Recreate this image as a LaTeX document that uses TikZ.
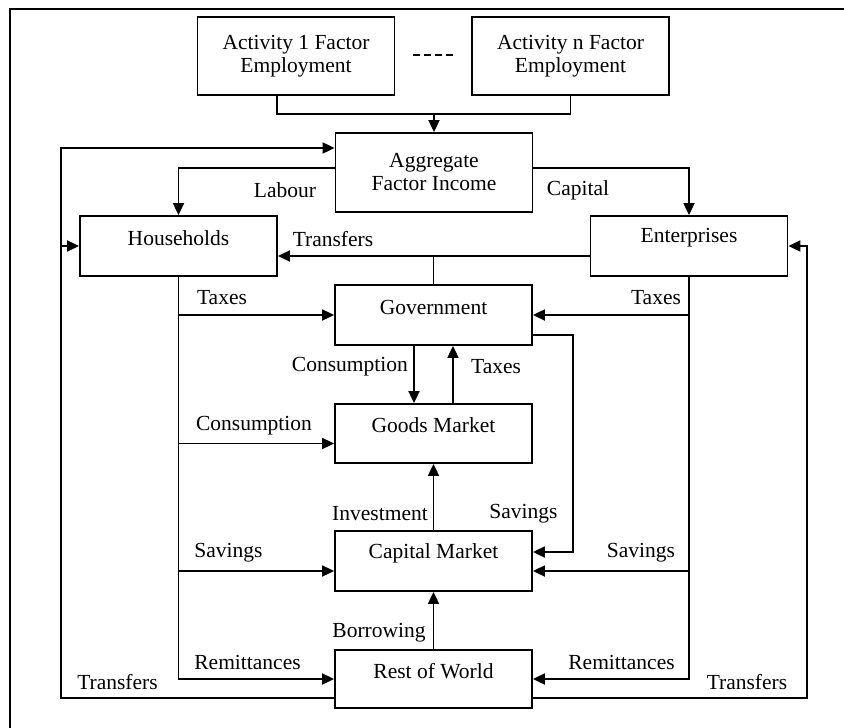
\documentclass[tikz,border=0pt]{standalone}
\usepackage{fontspec}
\setmainfont{Liberation Serif}
\usetikzlibrary{arrows.meta}
\begin{document}
\begin{tikzpicture}[x=1pt,y=-1pt,
  font=\fontsize{21.5}{23}\selectfont,
  box/.style={draw, line width=1.8pt, inner sep=0pt, minimum width=197pt, minimum height=60pt},
  boxtext/.style={inner sep=0pt, yshift=8pt},
  flow/.style={line width=1.8pt, -{Triangle[length=12pt,width=11pt]}},
  link/.style={line width=1.8pt},
  lbl/.style={inner sep=0pt}]
\useasboundingbox (0,0) rectangle (844,728);

% outer frame
\draw[line width=2.2pt] (10,728) -- (10,9) -- (844,9);

% accounts
\node[box, minimum height=78pt, align=center] (act1) at (296,56) {\raisebox{3pt}{\parbox{190pt}{\centering Activity 1 Factor\\Employment}}};
\node[box, minimum height=78pt, align=center] (actn) at (570.5,56) {\raisebox{3pt}{\parbox{190pt}{\centering Activity n Factor\\Employment}}};
\draw[line width=1.4pt, dash pattern=on 7pt off 4pt] (413,55) -- (453,55);

\node[box, minimum height=79pt, align=center] (agg) at (434,172.5) {Aggregate\\Factor Income};
\node[box, label={[boxtext]center:Households}] (hh) at (178.5,246) {};
\node[box, label={[boxtext]center:Enterprises}] (ent) at (689,246) {};
\node[box, label={[boxtext]center:Government}] (gov) at (433.5,315) {};
\node[box, minimum height=59pt, label={[boxtext]center:Goods Market}] (goods) at (433.5,433.5) {};
\node[box, label={[boxtext]center:Capital Market}] (cap) at (433.5,561) {};
\node[box, minimum height=58pt, label={[boxtext]center:Rest of World}] (row) at (433.5,679) {};

% helper points
\coordinate (join) at (434,113);
\coordinate (loopL) at (61,148);
\coordinate (loopR) at (807,246);
\coordinate (tr) at ([yshift=-10pt]ent.west);
\coordinate (gi) at ([yshift=-10pt]goods.west);
\coordinate (ci) at ([yshift=-10pt]cap.west);
\coordinate (ce) at ([yshift=-10pt]cap.east);

% factor employment into aggregate factor income
\draw[link] ([xshift=-19pt]act1.south) -- ++(0,18) -| (actn.south);
\draw[flow] (agg.north |- join) -- (agg.north);

% factor income distribution
\draw[flow] ([yshift=4.5pt]agg.west) -| (hh.north);
\draw[flow] ([yshift=4.5pt]agg.east) -| (ent.north);

% outer transfer loops
\draw[flow] ([yshift=-19pt]row.west) -| (loopL) -- (loopL -| agg.west);
\draw[flow] (hh.west -| loopL) -- (hh.west);
\draw[flow] ([yshift=-19pt]row.east) -| (loopR) -- (ent.east);

% transfers
\draw[flow] (tr) -- (tr -| hh.east);
\draw[link] (gov.north) -- (gov.north |- tr);

% household spending
\draw[flow] (hh.south) |- (row.west);
\draw[flow] (hh.south |- gov.west) -- (gov.west);
\draw[flow] (hh.south |- gi) -- (gi);
\draw[flow] (hh.south |- ci) -- (ci);

% enterprise spending
\draw[flow] (ent.south) |- (row.east);
\draw[flow] (ent.south |- gov.east) -- (gov.east);
\draw[flow] (ent.south |- ce) -- (ce);

% government flows
\draw[flow] ([yshift=-20pt]gov.east) -- ++(40,0) |- ([yshift=9pt]cap.east);
\draw[flow] ([xshift=-19.5pt]gov.south) -- ([xshift=-19.5pt]goods.north);
\draw[flow] ([xshift=19.5pt]goods.north) -- ([xshift=19.5pt]gov.south);

% capital market
\draw[flow] (cap.north) -- (goods.south);
\draw[flow] (row.north) -- (cap.south);

% flow labels
\node[lbl] (lLabour) at (285,190) {Labour};
\node[lbl] (lCapital) at (578,190) {Capital};
\node[lbl] (lTransfersTop) at (333,239) {Transfers};
\node[lbl] (lTaxesHH) at (222,298) {Taxes};
\node[lbl] (lTaxesEnt) at (656,298) {Taxes};
\node[lbl, anchor=east] (lConsGov) at (408,367) {Consumption};
\node[lbl, anchor=west] (lTaxesGoods) at (471,367) {Taxes};
\node[lbl] (lConsHH) at (254,426) {Consumption};
\node[lbl] (lInvest) at (380,514) {Investment};
\node[lbl] (lSavGov) at (523.5,514) {Savings};
\node[lbl] (lSavHH) at (228.5,553) {Savings};
\node[lbl] (lSavEnt) at (641,553) {Savings};
\node[lbl] (lBorrow) at (379,633) {Borrowing};
\node[lbl] (lRemHH) at (247.5,662) {Remittances};
\node[lbl] (lRemEnt) at (621.5,662) {Remittances};
\node[lbl] (lTransL) at (117.5,682) {Transfers};
\node[lbl] (lTransR) at (747,682) {Transfers};
\end{tikzpicture}
\end{document}
